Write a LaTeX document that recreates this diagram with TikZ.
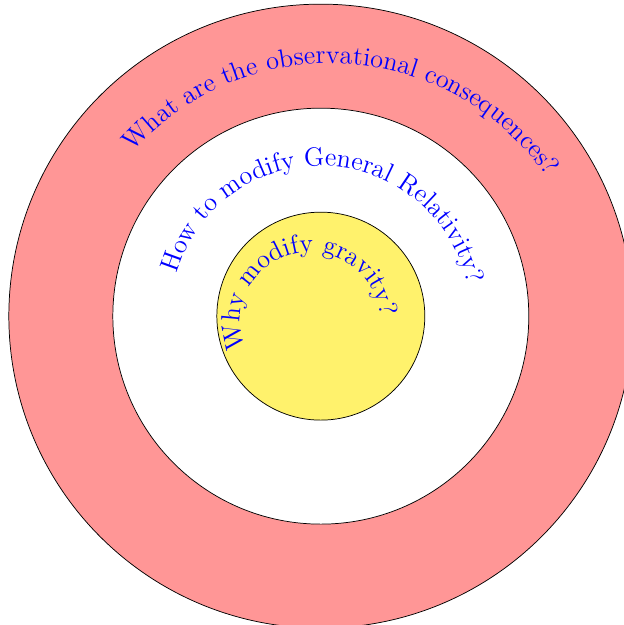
\documentclass[tikz,border=0pt]{standalone}
\usepackage{xcolor}
\usepackage{tikz}
\usetikzlibrary{decorations.text}

\definecolor{ringred}{RGB}{255,150,150}
\definecolor{coreyellow}{RGB}{255,242,108}

\begin{document}
\begin{tikzpicture}[
  ring/.style={draw=black},
  arctext/.style={decorate,
    decoration={text along path, text align=center,
      text={|\Large\color{blue}|#1}}},
  arctextleft/.style={decorate,
    decoration={text along path, text align=left,
      text={|\Large\color{blue}|#1}}}
]
  \useasboundingbox (-6.17,-5.94) rectangle (5.83,6.08);

  % Rings
  \filldraw[ring, fill=ringred] (0,0) circle (6);
  \filldraw[ring, fill=white] (0,0) circle (4);
  \filldraw[ring, fill=coreyellow] (0,0) circle (2);

  % Questions, from the outside in
  \path[arctext={What are the observational consequences?}, shift={(0.18,-0.22)}]
    (176.6:5.08) arc (176.6:-3.4:5.08);
  \path[arctext={How to modify General Relativity?}]
    (178:2.89) arc (178:-2:2.89);
  \path[arctextleft={Why modify gravity?}, shift={(-0.2,-0.12)}]
    (202:1.35) arc (202:-30:1.35);
\end{tikzpicture}
\end{document}
